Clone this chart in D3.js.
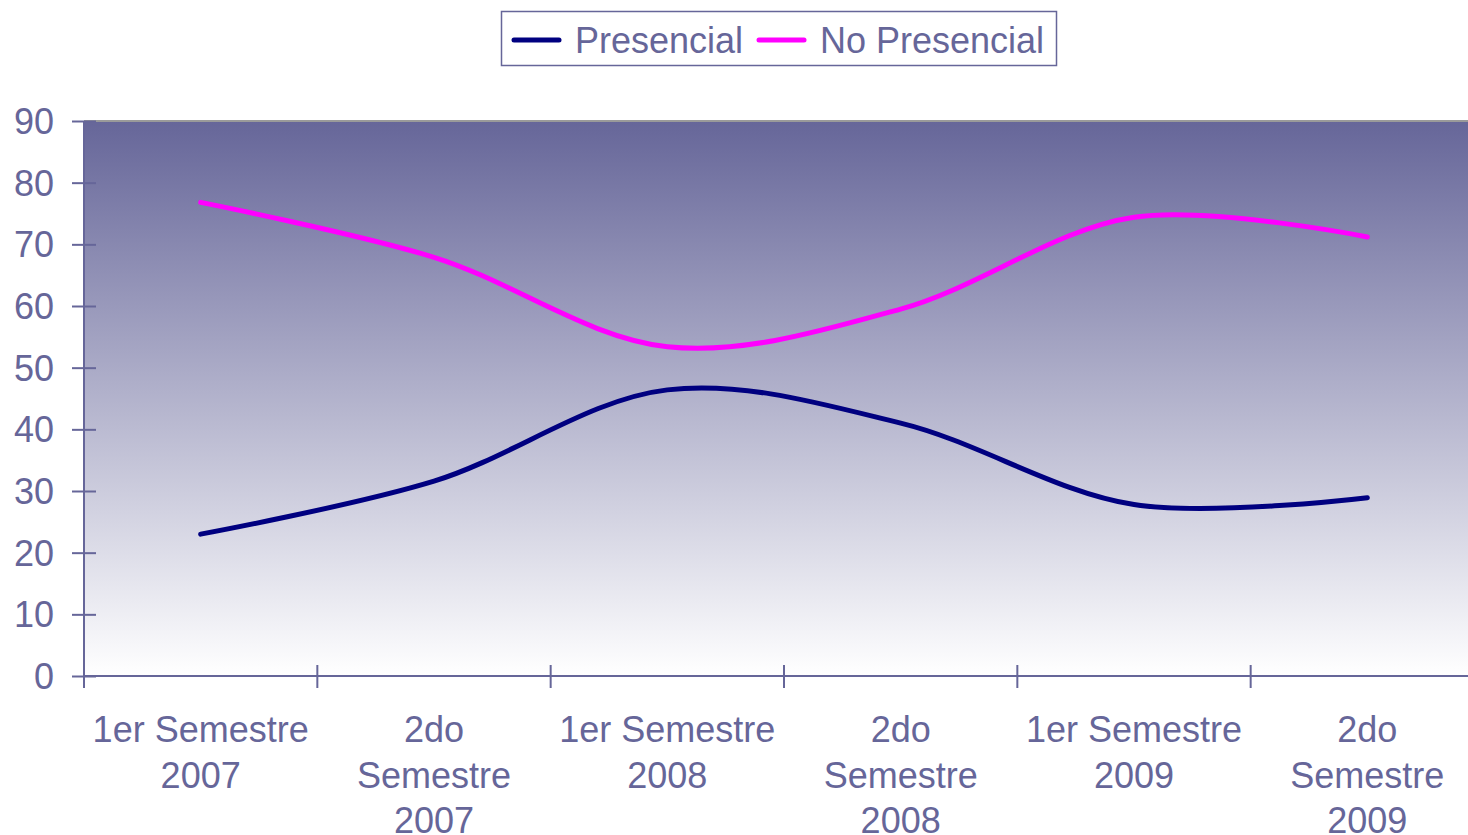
<!DOCTYPE html>
<html>
<head>
<meta charset="utf-8">
<script src="https://cdn.jsdelivr.net/npm/d3@7"></script>
<style>
  html, body { margin: 0; padding: 0; background: #ffffff; overflow: hidden; }
  svg { display: block; font-family: "Liberation Sans", Arial, sans-serif; }
</style>
</head>
<body>
<svg id="chart" width="1468" height="835"></svg>
<script>
// Semesters on the horizontal axis, with the wrapped label lines
const categories = ["1S2007", "2S2007", "1S2008", "2S2008", "1S2009", "2S2009"];
const categoryLabels = [
  ["1er Semestre", "2007"],
  ["2do", "Semestre", "2007"],
  ["1er Semestre", "2008"],
  ["2do", "Semestre", "2008"],
  ["1er Semestre", "2009"],
  ["2do", "Semestre", "2009"]
];

// Series values (percent)
const presencial   = [23.0, 31.6, 46.4, 41.0, 27.8, 28.9];
const noPresencial = [76.8, 67.9, 53.4, 59.5, 74.4, 71.2];

const seriesNames  = ["Presencial", "No Presencial"];
const seriesColors = ["#000080", "#ff00ff"];

const yTicks = [0, 10, 20, 30, 40, 50, 60, 70, 80, 90];

const axisColor = "#666699";
const fontSize = 36;

const svg = d3.select("#chart");

const plot = { left: 84, right: 1484, top: 121, bottom: 676 };

const x = d3.scaleBand().domain(categories).range([plot.left, plot.right]);
const y = d3.scaleLinear().domain([0, 90]).range([plot.bottom, plot.top]);

// Vertical gradient for the plot area
const defs = svg.append("defs");
const grad = defs.append("linearGradient")
  .attr("id", "bg").attr("x1", 0).attr("y1", 0).attr("x2", 0).attr("y2", 1);
grad.append("stop").attr("offset", "0%").attr("stop-color", "#666699");
grad.append("stop").attr("offset", "100%").attr("stop-color", "#ffffff");

svg.append("rect")
  .attr("x", plot.left).attr("y", plot.top)
  .attr("width", plot.right - plot.left).attr("height", plot.bottom - plot.top)
  .attr("fill", "url(#bg)");

// Top border of plot area
svg.append("line")
  .attr("x1", plot.left).attr("x2", plot.right)
  .attr("y1", plot.top).attr("y2", plot.top)
  .attr("stroke", "#9a9a9a").attr("stroke-width", 2);

// Y axis
const yAxis = d3.axisLeft(y).tickValues(yTicks).tickSize(0).tickPadding(0);
const gy = svg.append("g").attr("transform", `translate(${plot.left},0)`).call(yAxis);
gy.select(".domain").remove();
gy.selectAll(".tick text").remove();
gy.selectAll(".tick").append("line")
  .attr("x1", -12).attr("x2", 12)
  .attr("stroke", axisColor).attr("stroke-width", 2);
gy.selectAll(".tick").append("text")
  .attr("x", -30).attr("dy", "0.35em")
  .attr("text-anchor", "end")
  .attr("fill", axisColor)
  .style("font-size", fontSize + "px")
  .text(d => d);
svg.append("line")
  .attr("x1", plot.left).attr("x2", plot.left)
  .attr("y1", plot.top).attr("y2", plot.bottom + 12)
  .attr("stroke", axisColor).attr("stroke-width", 2);

// X axis
svg.append("line")
  .attr("x1", plot.left).attr("x2", plot.right)
  .attr("y1", plot.bottom).attr("y2", plot.bottom)
  .attr("stroke", axisColor).attr("stroke-width", 2);

const bounds = categories.map(c => x(c)).concat([plot.right]);
svg.append("g").selectAll("line").data(bounds).join("line")
  .attr("x1", d => d).attr("x2", d => d)
  .attr("y1", plot.bottom - 11).attr("y2", plot.bottom + 12)
  .attr("stroke", axisColor).attr("stroke-width", 2);

const xl = svg.append("g").selectAll("text").data(categories).join("text")
  .attr("text-anchor", "middle")
  .attr("fill", axisColor)
  .style("font-size", fontSize + "px");
xl.each(function(c, i) {
  const t = d3.select(this);
  categoryLabels[i].forEach((line, k) => {
    t.append("tspan")
      .attr("x", x(c) + x.bandwidth() / 2)
      .attr("y", 742 + k * 45.5)
      .text(line);
  });
});

// Lines
const line = d3.line()
  .x((d, i) => x(categories[i]) + x.bandwidth() / 2)
  .y(d => y(d))
  .curve(d3.curveCatmullRom.alpha(0.5));

[presencial, noPresencial].forEach((vals, s) => {
  svg.append("path")
    .datum(vals)
    .attr("d", line)
    .attr("fill", "none")
    .attr("stroke", seriesColors[s])
    .attr("stroke-width", 5)
    .attr("stroke-linecap", "round")
    .attr("stroke-linejoin", "round");
});

// Legend
const legend = svg.append("g");
legend.append("rect")
  .attr("x", 501.5).attr("y", 11.5).attr("width", 555).attr("height", 54)
  .attr("fill", "#ffffff").attr("stroke", axisColor).attr("stroke-width", 1.5);
const legendX = [514, 759];
seriesNames.forEach((name, s) => {
  legend.append("line")
    .attr("x1", legendX[s]).attr("x2", legendX[s] + 45)
    .attr("y1", 40).attr("y2", 40)
    .attr("stroke", seriesColors[s]).attr("stroke-width", 5)
    .attr("stroke-linecap", "round");
  legend.append("text")
    .attr("x", legendX[s] + 61).attr("y", 40).attr("dy", "0.35em")
    .attr("fill", axisColor)
    .style("font-size", fontSize + "px")
    .text(name);
});
</script>
</body>
</html>
